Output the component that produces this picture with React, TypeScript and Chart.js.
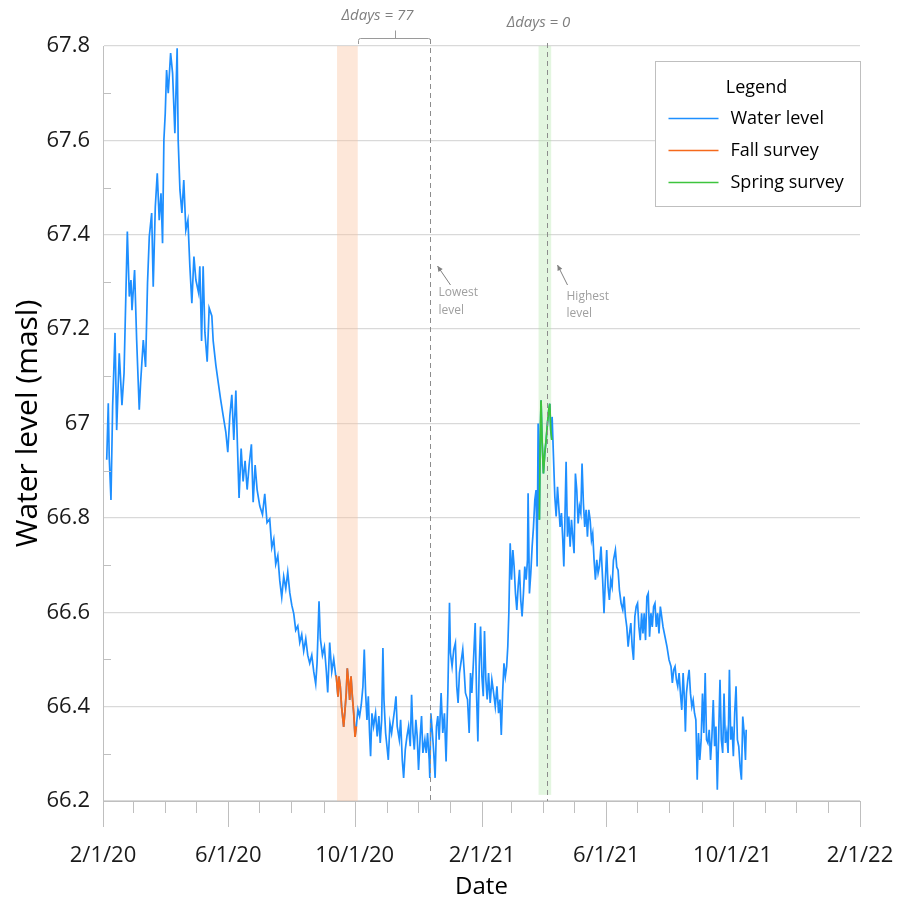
import React, { useEffect, useRef } from 'react';
import { Chart, registerables } from 'chart.js';

Chart.register(...registerables);

// x = days since 2/1/2020, y = water level (masl)
const waterBeforeFall: [number, number][] = [
  [3.6, 66.923], [5.1, 67.043], [6.0, 66.93], [7.7, 66.838], [9.3, 67.036], [11.6, 67.192], [13.2, 66.986],
  [15.7, 67.149], [18.3, 67.039], [20.3, 67.106], [23.5, 67.407], [25.4, 67.269], [27.0, 67.304], [28.0, 67.24],
  [30.5, 67.325], [32.5, 67.177], [35.0, 67.029], [36.3, 67.086], [38.9, 67.177], [41.1, 67.12], [43.0, 67.298],
  [44.7, 67.396], [47.0, 67.446], [48.5, 67.29], [50.5, 67.459], [52.4, 67.53], [54.3, 67.431], [56.0, 67.488],
  [57.5, 67.382], [58.8, 67.601], [60.1, 67.657], [61.4, 67.749], [63.0, 67.7], [65.3, 67.785], [67.2, 67.742],
  [69.4, 67.615], [71.6, 67.795], [72.6, 67.6], [74.3, 67.495], [76.2, 67.446], [78.0, 67.516], [80.0, 67.41],
  [82.0, 67.431], [83.9, 67.332], [85.8, 67.255], [87.8, 67.354], [89.7, 67.304], [92.3, 67.277],
  [93.5, 67.333], [95.2, 67.175], [96.7, 67.333], [98.4, 67.193], [100.6, 67.131], [102.5, 67.245], [105.1, 67.228],
  [106.4, 67.175], [109, 67.123], [111.2, 67.088], [113.5, 67.052], [116, 67.017], [118.6, 66.982], [120.5, 66.939],
  [122.5, 67.017], [124.4, 67.061], [126.3, 66.965], [128.3, 67.07], [129.9, 66.947], [131.4, 66.842], [133.4, 66.947],
  [135.3, 66.877], [137.2, 66.921], [139.2, 66.86], [141.1, 66.912], [143.3, 66.956], [145, 66.833], [146.9, 66.912],
  [148.8, 66.86], [151.4, 66.825], [154, 66.807], [156.2, 66.851], [158.4, 66.79], [161, 66.798], [163, 66.737],
  [164.9, 66.755], [166.8, 66.702], [168.8, 66.72], [170.7, 66.667], [172.6, 66.632], [174.5, 66.676], [176.5, 66.65],
  [178.4, 66.685], [180.4, 66.641], [182.3, 66.615], [184.2, 66.597], [186.1, 66.562], [188.1, 66.571], [190, 66.536],
  [191.9, 66.553], [193.8, 66.518], [195.8, 66.544], [197.7, 66.509], [199.6, 66.492], [201.6, 66.509], [203.5, 66.474],
  [205.4, 66.448], [206.7, 66.492], [208.6, 66.623], [209.9, 66.544], [211.9, 66.509], [213.8, 66.527], [215.7, 66.474],
  [217, 66.43], [218.9, 66.536], [220.9, 66.474], [222.8, 66.501], [224.7, 66.466],
];

const fallSurvey: [number, number][] = [
  [224.7, 66.466], [225.3, 66.464], [226.9, 66.421], [227.8, 66.464], [229.1, 66.443], [230.4, 66.4], [232.4, 66.357],
  [233.6, 66.39], [234.9, 66.429], [235.9, 66.481], [237.2, 66.45], [238.2, 66.414], [239.5, 66.464], [240.8, 66.421],
  [242.1, 66.386], [243.4, 66.336], [244.6, 66.358],
];

const waterBetween: [number, number][] = [
  [244.6, 66.358], [246.2, 66.394], [247.8, 66.38], [249.4, 66.404], [251, 66.443], [252.3, 66.521], [253.6, 66.429],
  [254.9, 66.372], [256.2, 66.422], [257.4, 66.344], [258.4, 66.295], [259.7, 66.386], [261.3, 66.358], [263.2, 66.386],
  [264.8, 66.337], [266.4, 66.38], [267.7, 66.323], [269.1, 66.372], [270.3, 66.524], [271.3, 66.415], [272.9, 66.344],
  [274.2, 66.316], [275.5, 66.287], [277.1, 66.365], [278.7, 66.344], [280.3, 66.372], [281.6, 66.394], [282.9, 66.422],
  [284.1, 66.358], [286.1, 66.33], [287.4, 66.372], [289, 66.287], [290.3, 66.249], [291.9, 66.309], [293.5, 66.337],
  [295.1, 66.358], [296.7, 66.316], [298, 66.425], [299.3, 66.344], [300.6, 66.309], [302.1, 66.372], [303.4, 66.337],
  [304.7, 66.266], [306.3, 66.337], [307.6, 66.38], [308.9, 66.302], [310.8, 66.33], [312.1, 66.302], [313.4, 66.344],
  [315, 66.287], [315.6, 66.249], [316.6, 66.386], [318.1, 66.344], [319.4, 66.302], [320.7, 66.249], [322, 66.358],
  [323.3, 66.38], [324.6, 66.33], [326.5, 66.429], [328.1, 66.344], [329.7, 66.386], [331.3, 66.284], [333, 66.429],
  [334.6, 66.62], [335.5, 66.514], [337.1, 66.485], [338.7, 66.521], [340.3, 66.535], [341.6, 66.443], [342.9, 66.408],
  [344.2, 66.471], [346.1, 66.5], [347.4, 66.521], [348.7, 66.478], [350, 66.429], [352, 66.415], [353.6, 66.344],
  [354.9, 66.471], [356.2, 66.429], [357.8, 66.5], [359.4, 66.577], [360.7, 66.429], [362, 66.326], [363.3, 66.485],
  [364.6, 66.57], [365.9, 66.464], [367.2, 66.422], [368.4, 66.56], [369.7, 66.457], [371, 66.415], [372.3, 66.471],
  [373.9, 66.408], [375.5, 66.457], [377.2, 66.429], [378.8, 66.4], [380.4, 66.443], [382, 66.386], [383.3, 66.415],
  [384.6, 66.34], [385.9, 66.429], [387.2, 66.492], [388.5, 66.464], [389.8, 66.485], [390.9, 66.528], [391.9, 66.598],
  [393.2, 66.746], [394.5, 66.669], [395.8, 66.732], [397, 66.697], [398.3, 66.64], [399.6, 66.605], [400.9, 66.655],
  [402.2, 66.69], [403.4, 66.626], [404.7, 66.591], [406, 66.64], [407.3, 66.697], [408.6, 66.669], [409.9, 66.711],
  [410.5, 66.852], [411.8, 66.64], [413.1, 66.683], [414.4, 66.739], [415.7, 66.781], [417, 66.838], [418.2, 66.859],
  [419.2, 66.697], [420.2, 67.0], [421.4, 66.796],
];

const springSurvey: [number, number][] = [
  [421.4, 66.796], [422.1, 66.951], [423, 67.049], [424, 66.965], [425.3, 66.894], [426.6, 66.937], [427.9, 66.965],
  [429.2, 67.0], [430.4, 67.028], [431.4, 67.042], [432.4, 66.986], [433.4, 66.965],
];

const waterAfterSpring: [number, number][] = [
  [433.4, 66.965], [433.7, 67.014], [435, 66.93], [436.3, 66.845], [437.6, 66.803], [438.9, 66.866], [440.1, 66.824],
  [441.4, 66.781], [442.7, 66.81], [444, 66.753], [445, 66.697], [445.9, 66.781], [447.2, 66.919], [448.5, 66.76],
  [449.8, 66.803], [451.1, 66.739], [452.4, 66.796], [453.6, 66.76], [454.9, 66.725], [456.2, 66.894], [457.5, 66.859],
  [458.8, 66.788], [460.1, 66.824], [461.4, 66.81], [462.6, 66.915], [463.9, 66.831], [465.2, 66.781], [466.5, 66.817],
  [467.8, 66.76], [469.1, 66.817], [470.4, 66.796], [471.7, 66.753], [472.9, 66.767], [474.2, 66.711], [475.5, 66.669],
  [476.8, 66.711], [478.1, 66.683], [479.3, 66.696], [480.9, 66.739], [482.5, 66.668], [483.8, 66.598], [485.1, 66.668],
  [486.4, 66.732], [487.7, 66.654], [489, 66.626], [490.3, 66.668], [491.6, 66.654], [492.9, 66.71], [494.8, 66.732],
  [496.1, 66.696], [497.4, 66.689], [498.7, 66.647], [500.3, 66.619], [501.9, 66.605], [503.2, 66.633], [504.5, 66.591],
  [505.8, 66.569], [507.1, 66.527], [508.4, 66.555], [509.7, 66.577], [511, 66.527], [512.3, 66.499], [513.6, 66.591],
  [514.9, 66.612], [516.2, 66.619], [517.5, 66.569], [518.8, 66.541], [520.1, 66.598], [521.4, 66.555], [522.6, 66.598],
  [523.9, 66.541], [525.2, 66.633], [526.5, 66.64], [527.8, 66.548], [529.1, 66.598], [530.4, 66.569], [531.7, 66.612],
  [533, 66.619], [534.3, 66.569], [535.6, 66.598], [536.9, 66.555], [538.2, 66.612], [539.5, 66.591], [540.8, 66.569],
  [542.7, 66.548], [544.6, 66.527], [546.6, 66.499], [548.5, 66.485], [549.8, 66.45], [551.1, 66.478], [552.4, 66.485],
  [553.7, 66.457], [555, 66.443], [556.3, 66.471], [557.6, 66.428], [558.9, 66.393], [560.2, 66.471], [561.5, 66.414],
  [562.4, 66.347], [563.4, 66.428], [564.7, 66.457], [566, 66.478], [567.3, 66.428], [568.6, 66.4], [569.9, 66.414],
  [571.2, 66.386], [572.5, 66.372], [573.8, 66.245], [575, 66.344], [576.3, 66.287], [577.6, 66.33], [578.9, 66.428],
  [580.2, 66.344], [581.5, 66.471], [582.8, 66.33], [584.1, 66.323], [585.4, 66.351], [586.7, 66.287], [588, 66.337],
  [589.3, 66.414], [590.6, 66.316], [591.9, 66.358], [593.2, 66.224], [594.5, 66.337], [595.8, 66.457], [597.1, 66.33],
  [598.4, 66.302], [599.7, 66.428], [601, 66.323], [602.3, 66.344], [603.6, 66.302], [604.9, 66.478], [606.2, 66.33],
  [607.4, 66.358], [608.7, 66.295], [610, 66.386], [611.3, 66.443], [612.6, 66.33], [613.9, 66.316], [615.2, 66.273],
  [616.5, 66.245], [617.8, 66.379], [619.1, 66.344], [620.4, 66.287], [621.1, 66.351],
];

const seriesLabels = ['Water level', 'Fall survey', 'Spring survey'];

const xMajorTickDays = [0, 121, 243, 366, 486, 608, 731];
const xMajorTickLabels = ['2/1/20', '6/1/20', '10/1/20', '2/1/21', '6/1/21', '10/1/21', '2/1/22'];
const xMonthTickDays = [0, 29, 60, 90, 121, 151, 182, 213, 243, 274, 304, 335, 366, 394, 425, 455, 486, 516, 547, 578, 608, 639, 669, 700, 731];

const yMajorTicks = [66.2, 66.4, 66.6, 66.8, 67.0, 67.2, 67.4, 67.6, 67.8];
const yTickLabels = ['66.2', '66.4', '66.6', '66.8', '67', '67.2', '67.4', '67.6', '67.8'];
const yMinorTicks = [66.3, 66.5, 66.7, 66.9, 67.1, 67.3, 67.5, 67.7];

// annotation dates (days since 2/1/2020)
const fallBand = [226, 246];
const springBand = [420.6, 432.8];
const lowestDay = 316;
const highestDay = 429;
const deltaLowLabel = 'Δdays = 77';
const deltaHighLabel = 'Δdays = 0';

const FONT = "'Open Sans', 'DejaVu Sans', sans-serif";
const toPts = (arr: [number, number][]) => arr.map(([x, y]) => ({ x, y }));

const arrow = (ctx: CanvasRenderingContext2D, x1: number, y1: number, x2: number, y2: number) => {
  ctx.beginPath();
  ctx.moveTo(x1, y1);
  ctx.lineTo(x2, y2);
  ctx.stroke();
  const a = Math.atan2(y2 - y1, x2 - x1);
  const s = 6;
  ctx.beginPath();
  ctx.moveTo(x2, y2);
  ctx.lineTo(x2 - s * Math.cos(a - 0.45), y2 - s * Math.sin(a - 0.45));
  ctx.lineTo(x2 - s * Math.cos(a + 0.45), y2 - s * Math.sin(a + 0.45));
  ctx.closePath();
  ctx.fill();
};

const decorPlugin = {
  id: 'decor',
  beforeDatasetsDraw(chart: any) {
    const { ctx, chartArea, scales } = chart;
    const x = scales.x;
    const y = scales.y;
    ctx.save();
    const f1 = x.getPixelForValue(fallBand[0]);
    const f2 = x.getPixelForValue(fallBand[1]);
    ctx.fillStyle = 'rgba(250, 195, 160, 0.4)';
    ctx.fillRect(f1, chartArea.top, f2 - f1, chartArea.bottom - chartArea.top);
    const s1 = x.getPixelForValue(springBand[0]);
    const s2 = x.getPixelForValue(springBand[1]);
    ctx.fillStyle = 'rgba(175, 230, 165, 0.35)';
    const gBottom = y.getPixelForValue(66.213);
    ctx.fillRect(s1, chartArea.top, s2 - s1, gBottom - chartArea.top);
    ctx.restore();
  },
  afterDatasetsDraw(chart: any) {
    const { ctx, chartArea, scales } = chart;
    const x = scales.x;
    const top = chartArea.top;
    const bottom = chartArea.bottom;
    const xL = Math.round(x.getPixelForValue(lowestDay)) + 0.5;
    const xH = Math.round(x.getPixelForValue(highestDay)) + 0.5;
    const xF = Math.round(x.getPixelForValue(fallBand[1])) + 0.5;
    ctx.save();
    // dashed lines
    ctx.strokeStyle = '#8c8c8c';
    ctx.lineWidth = 1;
    ctx.setLineDash([5, 4]);
    ctx.beginPath();
    ctx.moveTo(xL, top - 7);
    ctx.lineTo(xL, bottom);
    ctx.moveTo(xH, top - 3);
    ctx.lineTo(xH, bottom);
    ctx.stroke();
    ctx.setLineDash([]);
    // bracket
    const by = top - 7.5;
    const mid = (xF + xL) / 2;
    ctx.strokeStyle = '#9a9a9a';
    ctx.beginPath();
    ctx.moveTo(xF, top - 2);
    ctx.lineTo(xF, by + 2);
    ctx.quadraticCurveTo(xF, by, xF + 2, by);
    ctx.lineTo(xL - 2, by);
    ctx.quadraticCurveTo(xL, by, xL, by + 2);
    ctx.moveTo(Math.round(mid) + 0.5, by);
    ctx.lineTo(Math.round(mid) + 0.5, by - 8);
    ctx.stroke();
    // delta labels
    ctx.fillStyle = '#7f7f7f';
    ctx.font = `italic 15px ${FONT}`;
    ctx.textAlign = 'center';
    ctx.textBaseline = 'middle';
    ctx.fillText(deltaLowLabel, mid - 17, top - 30);
    ctx.fillText(deltaHighLabel, xH - 9, top - 23);
    // arrows
    ctx.strokeStyle = '#808080';
    ctx.fillStyle = '#808080';
    ctx.lineWidth = 1;
    arrow(ctx, xL + 20, top + 239, xL + 7, top + 220);
    arrow(ctx, xH + 20, top + 239, xH + 10, top + 219);
    ctx.fillStyle = '#a0a0a0';
    ctx.font = `12px ${FONT}`;
    ctx.textAlign = 'left';
    ctx.fillText('Lowest', xL + 8, top + 247);
    ctx.fillText('level', xL + 8, top + 265);
    ctx.fillText('Highest', xH + 19, top + 251);
    ctx.fillText('level', xH + 19, top + 268);
    ctx.restore();
  },
  afterDraw(chart: any) {
    const { ctx, chartArea, scales } = chart;
    const x = scales.x;
    const y = scales.y;
    ctx.save();
    // x tick marks (monthly minor, 4-monthly major)
    ctx.strokeStyle = '#bfbfbf';
    ctx.lineWidth = 1;
    ctx.beginPath();
    xMonthTickDays.forEach((d) => {
      const px = Math.round(x.getPixelForValue(d)) + 0.5;
      const len = xMajorTickDays.includes(d) ? 26 : 12;
      ctx.moveTo(px, chartArea.bottom);
      ctx.lineTo(px, chartArea.bottom + len);
    });
    // y minor tick marks
    yMinorTicks.forEach((v) => {
      const py = Math.round(y.getPixelForValue(v)) + 0.5;
      ctx.moveTo(chartArea.left, py);
      ctx.lineTo(chartArea.left + 8, py);
    });
    ctx.stroke();

    // legend
    const bw = 205;
    const bh = 145;
    const bx = Math.round(chartArea.right - bw) + 0.5;
    const bY = Math.round(chartArea.top + 15) + 0.5;
    ctx.fillStyle = '#ffffff';
    ctx.fillRect(bx, bY, bw, bh);
    ctx.strokeStyle = '#bfbfbf';
    ctx.strokeRect(bx, bY, bw, bh);
    ctx.fillStyle = '#000000';
    ctx.font = `18px ${FONT}`;
    ctx.textAlign = 'center';
    ctx.textBaseline = 'middle';
    ctx.fillText('Legend', bx + 101, bY + 26);
    chart.data.datasets.forEach((ds: any, i: number) => {
      const ly = bY + 57 + i * 32;
      ctx.strokeStyle = ds.borderColor;
      ctx.lineWidth = 1.5;
      ctx.beginPath();
      ctx.moveTo(bx + 13, ly);
      ctx.lineTo(bx + 63, ly);
      ctx.stroke();
      ctx.textAlign = 'left';
      ctx.fillText(ds.label, bx + 75, ly);
    });
    ctx.restore();
  },
};

export default function App() {
  const canvasRef = useRef<HTMLCanvasElement | null>(null);

  useEffect(() => {
    if (!canvasRef.current) return;
    Chart.defaults.font.family = FONT;
    const allWater = [...waterBeforeFall, ...fallSurvey.slice(1), ...waterBetween.slice(1), ...springSurvey.slice(1), ...waterAfterSpring.slice(1)];
    const chart = new Chart(canvasRef.current, {
      type: 'line',
      data: {
        datasets: [
          { label: seriesLabels[0], data: toPts(allWater), borderColor: '#1E8FFF', borderWidth: 1.7, pointRadius: 0, tension: 0, order: 3 },
          { label: seriesLabels[1], data: toPts(fallSurvey), borderColor: '#F5691B', borderWidth: 1.8, pointRadius: 0, tension: 0, order: 2 },
          { label: seriesLabels[2], data: toPts(springSurvey), borderColor: '#3DC43D', borderWidth: 1.8, pointRadius: 0, tension: 0, order: 1 },
        ],
      },
      options: {
        responsive: false,
        animation: false,
        events: [],
        layout: { padding: { left: 0, right: 47, top: 46, bottom: 0 } },
        plugins: { legend: { display: false }, tooltip: { enabled: false } },
        scales: {
          x: {
            type: 'linear',
            min: 0,
            max: 731,
            afterBuildTicks: (s: any) => { s.ticks = xMajorTickDays.map((v) => ({ value: v })); },
            afterFit: (s: any) => { s.height = 99; s.paddingLeft = 0; s.paddingRight = 0; },
            grid: { display: true, drawOnChartArea: false, drawTicks: false },
            border: { display: true, color: '#bfbfbf', width: 1 },
            ticks: {
              autoSkip: false,
              maxRotation: 0,
              padding: 42,
              color: '#1a1a1a',
              font: { size: 22, family: FONT },
              callback: (v: any) => {
                const i = xMajorTickDays.indexOf(Number(v));
                return i >= 0 ? xMajorTickLabels[i] : '';
              },
            },
            title: { display: true, text: 'Date', color: '#000', font: { size: 24, family: FONT, lineHeight: 1 }, padding: { top: 0, bottom: 1 } },
          },
          y: {
            min: 66.2,
            max: 67.8,
            afterBuildTicks: (s: any) => { s.ticks = yMajorTicks.map((v) => ({ value: v })); },
            afterFit: (s: any) => { s.width = 103; },
            grid: { color: '#d9d9d9', lineWidth: 1.3, drawTicks: false },
            border: { display: true, color: '#bfbfbf', width: 1 },
            ticks: {
              padding: 13,
              color: '#1a1a1a',
              font: { size: 22, family: FONT },
              callback: (v: any) => {
                const i = yMajorTicks.findIndex((t) => Math.abs(t - Number(v)) < 1e-6);
                return i >= 0 ? yTickLabels[i] : '';
              },
            },
            title: { display: true, text: 'Water level (masl)', color: '#000', font: { size: 30, family: FONT }, padding: { top: 10, bottom: 0 } },
          },
        },
      },
      plugins: [decorPlugin],
    } as any);
    return () => chart.destroy();
  }, []);

  return (
    <div style={{ position: 'absolute', left: 0, top: 0, width: 907, height: 900, background: '#fff' }}>
      <canvas ref={canvasRef} width={907} height={900} style={{ display: 'block' }} />
    </div>
  );
}
